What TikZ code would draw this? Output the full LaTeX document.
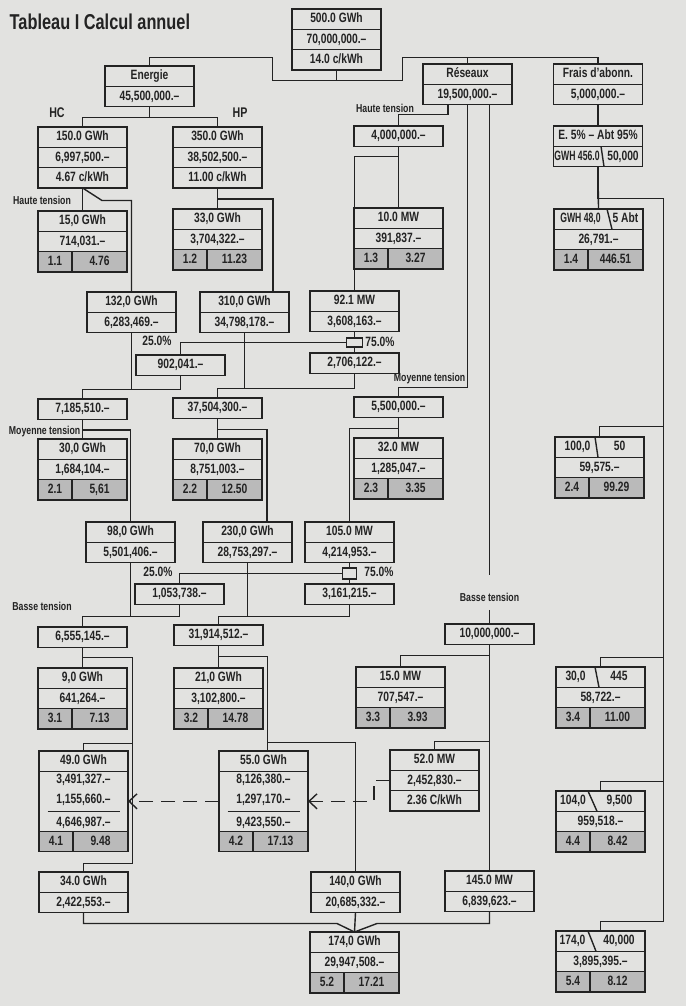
\documentclass[tikz,border=0pt]{standalone}
\usepackage{fontspec}
\setmainfont{Liberation Sans}[FakeStretch=0.76]
\newfontfamily\narrowfont{Liberation Sans}[FakeStretch=0.64]
\usetikzlibrary{positioning,arrows.meta}

\definecolor{paper}{RGB}{226,226,224}
\definecolor{ink}{RGB}{35,35,35}
\definecolor{shade}{RGB}{186,186,186}

\newcommand{\cellfont}{\fontsize{13.5}{16}\selectfont\bfseries}
\newcommand{\labfont}{\fontsize{11.5}{14}\selectfont\bfseries}
\newcommand{\hcfont}{\fontsize{14}{16}\selectfont\bfseries}
\newcommand{\titlefont}{\fontsize{21.5}{24}\selectfont\bfseries}

\tikzset{
  cell/.style={draw=ink, line width=1.4pt, minimum width=89pt, minimum height=20.3pt,
    inner sep=0pt, outer sep=0pt, text=ink, font=\cellfont, text height=9.8pt, text depth=2.6pt},
  gcell/.style={cell, fill=shade},
  bigcell/.style={draw=ink, line width=1.4pt, minimum width=89pt, minimum height=60pt,
    inner sep=0pt, outer sep=0pt, text=ink, align=center, font={\fontsize{13.5}{20}\selectfont\bfseries}},
  txt/.style={text=ink, font=\cellfont, inner sep=0pt, text height=9.8pt, text depth=2.6pt},
  lab/.style={text=ink, font=\labfont, inner sep=1pt},
  splitbox/.style={draw=ink, fill=paper, inner sep=0pt, outer sep=0pt},
  dashwire/.style={dash pattern=on 14pt off 8pt, -{Straight Barb[length=8pt,width=15pt]}},
}

% grey row of two cells under a row node: above, name, left, right
\newcommand{\greyrow}[4]{%
  \node[gcell, minimum width=34pt, below right=0pt and 0pt of #1.south west] (#2l) {#3};
  \node[gcell, minimum width=55pt, below left=0pt and 0pt of #1.south east] (#2r) {#4};}
% row split by a slanted stroke: row, top shift, bottom shift, left shift, left text, right shift, right text
\newcommand{\slashrow}[7]{%
  \draw ([xshift=#2pt]#1.north) -- ([xshift=#3pt]#1.south);
  \node[txt] (#1l) at ([xshift=#4pt]#1.center) {#5};
  \node[txt] (#1r) at ([xshift=#6pt]#1.center) {#7};}

\begin{document}
\begin{tikzpicture}[x=1pt,y=-1pt,line width=1.4pt,color=ink]
\fill[paper] (0,0) rectangle (686,1006);
\useasboundingbox (0,0) rectangle (686,1006);

\node[anchor=west, font=\titlefont, text=ink, inner sep=0pt] (title) at (9,22) {Tableau I Calcul annuel};

% totals
\node[cell, anchor=north] (tot1) at (336.5,9) {500.0 GWh};
\node[cell, below=0pt of tot1] (tot2) {70,000,000.–};
\node[cell, below=0pt of tot2] (tot3) {14.0 c/kWh};

\node[cell, anchor=north] (en1) at (149.5,66) {Energie};
\node[cell, below=0pt of en1] (en2) {45,500,000.–};
\node[cell, anchor=north] (res1) at (467.5,64) {Réseaux};
\node[cell, below=0pt of res1] (res2) {19,500,000.–};
\node[cell, anchor=north] (fr1) at (598,64) {Frais d'abonn.};
\node[cell, below=0pt of fr1] (fr2) {5,000,000.–};

% energie HC / HP
\node[cell, anchor=north] (hc1) at (82.5,127) {150.0 GWh};
\node[cell, below=0pt of hc1] (hc2) {6,997,500.–};
\node[cell, below=0pt of hc2] (hc3) {4.67 c/kWh};
\node[cell, anchor=north] (hp1) at (217.5,127) {350.0 GWh};
\node[cell, below=0pt of hp1] (hp2) {38,502,500.–};
\node[cell, below=0pt of hp2] (hp3) {11.00 c/kWh};
\node[lab, font=\hcfont] (lhc) at (57,113) {HC};
\node[lab, font=\hcfont] (lhp) at (240,113) {HP};

\node[cell, anchor=north] (htr) at (398.5,126) {4,000,000.–};
\node[cell, anchor=north] (e51) at (598,126) {E. 5\% – Abt 95\%};
\node[cell, below=0pt of e51] (e52) {};
\slashrow{e52}{3}{6}{-21}{\narrowfont\bfseries GWH 456.0}{25}{50,000}

% haute tension
\node[cell, anchor=north] (h1a) at (82.5,211) {15,0 GWh};
\node[cell, below=0pt of h1a] (h1b) {714,031.–};
\greyrow{h1b}{h1g}{1.1}{4.76}
\node[cell, anchor=north] (h2a) at (217.5,209) {33,0 GWh};
\node[cell, below=0pt of h2a] (h2b) {3,704,322.–};
\greyrow{h2b}{h2g}{1.2}{11.23}
\node[cell, anchor=north] (h3a) at (398.5,208) {10.0 MW};
\node[cell, below=0pt of h3a] (h3b) {391,837.–};
\greyrow{h3b}{h3g}{1.3}{3.27}
\node[cell, anchor=north] (g48a) at (598.5,209) {};
\slashrow{g48a}{8.5}{13.5}{-18}{\narrowfont\bfseries GWH 48,0}{27}{5 Abt}
\node[cell, below=0pt of g48a] (g48b) {26,791.–};
\greyrow{g48b}{g48g}{1.4}{446.51}

\node[cell, anchor=north] (b132a) at (131.5,292) {132,0 GWh};
\node[cell, below=0pt of b132a] (b132b) {6,283,469.–};
\node[cell, anchor=north] (b310a) at (244.5,292) {310,0 GWh};
\node[cell, below=0pt of b310a] (b310b) {34,798,178.–};
\node[cell, anchor=north] (m92a) at (354.5,291) {92.1 MW};
\node[cell, below=0pt of m92a] (m92b) {3,608,163.–};
\node[splitbox, minimum width=16pt, minimum height=9pt] (sp1) at (354.5,342.5) {};
\node[cell, anchor=north] (c902) at (180.5,355) {902,041.–};
\node[cell, anchor=north] (c2706) at (354.5,353) {2,706,122.–};
\node[txt] (p25a) at (157,342) {25.0\%};
\node[txt] (p75a) at (380,343) {75.0\%};

\node[cell, anchor=north] (c7185) at (82.5,399) {7,185,510.–};
\node[cell, anchor=north] (c37504) at (217.5,398) {37,504,300.–};
\node[cell, anchor=north] (c5500) at (398.5,397) {5,500,000.–};

% moyenne tension
\node[cell, anchor=north] (mt1a) at (82.5,439) {30,0 GWh};
\node[cell, below=0pt of mt1a] (mt1b) {1,684,104.–};
\greyrow{mt1b}{mt1g}{2.1}{5,61}
\node[cell, anchor=north] (mt2a) at (217.5,439) {70,0 GWh};
\node[cell, below=0pt of mt2a] (mt2b) {8,751,003.–};
\greyrow{mt2b}{mt2g}{2.2}{12.50}
\node[cell, anchor=north] (mt3a) at (398.5,438) {32.0 MW};
\node[cell, below=0pt of mt3a] (mt3b) {1,285,047.–};
\greyrow{mt3b}{mt3g}{2.3}{3.35}
\node[cell, anchor=north] (m4a) at (599.5,437) {};
\slashrow{m4a}{-4.5}{-1.5}{-22}{100,0}{20}{50}
\node[cell, below=0pt of m4a] (m4b) {59,575.–};
\greyrow{m4b}{m4g}{2.4}{99.29}

\node[cell, anchor=north] (b98a) at (130.5,522) {98,0 GWh};
\node[cell, below=0pt of b98a] (b98b) {5,501,406.–};
\node[cell, anchor=north] (b230a) at (247.5,522) {230,0 GWh};
\node[cell, below=0pt of b230a] (b230b) {28,753,297.–};
\node[cell, anchor=north] (b105a) at (349.5,522) {105.0 MW};
\node[cell, below=0pt of b105a] (b105b) {4,214,953.–};
\node[splitbox, minimum width=14pt, minimum height=11pt] (sp2) at (349.5,573.5) {};
\node[cell, anchor=north] (c1053) at (179.5,584) {1,053,738.–};
\node[cell, anchor=north] (c3161) at (349.5,584) {3,161,215.–};
\node[txt] (p25b) at (158,573) {25.0\%};
\node[txt] (p75b) at (379,573) {75.0\%};

\node[cell, anchor=north] (c6555) at (82.5,627) {6,555,145.–};
\node[cell, anchor=north] (c31914) at (218.5,625) {31,914,512.–};
\node[cell, anchor=north] (bt10) at (489.5,624) {10,000,000.–};

% basse tension
\node[cell, anchor=north] (bt1a) at (82.5,668) {9,0 GWh};
\node[cell, below=0pt of bt1a] (bt1b) {641,264.–};
\greyrow{bt1b}{bt1g}{3.1}{7.13}
\node[cell, anchor=north] (bt2a) at (218.5,668) {21,0 GWh};
\node[cell, below=0pt of bt2a] (bt2b) {3,102,800.–};
\greyrow{bt2b}{bt2g}{3.2}{14.78}
\node[cell, anchor=north] (bt3a) at (400.5,667) {15.0 MW};
\node[cell, below=0pt of bt3a] (bt3b) {707,547.–};
\greyrow{bt3b}{bt3g}{3.3}{3.93}
\node[cell, anchor=north] (b4a) at (600.5,667) {};
\slashrow{b4a}{-5.5}{-1.5}{-25}{30,0}{18.5}{445}
\node[cell, below=0pt of b4a] (b4b) {58,722.–};
\greyrow{b4b}{b4g}{3.4}{11.00}

\node[cell, anchor=north] (c49a) at (83.5,751) {49.0 GWh};
\node[bigcell, below=0pt of c49a] (c49b) {3,491,327.–\\1,155,660.–\\[3pt]4,646,987.–};
\greyrow{c49b}{c49g}{4.1}{9.48}
\draw (c49b.center) ++(-36,10) -- ++(72,0);
\node[cell, anchor=north] (c55a) at (263.5,751) {55.0 GWh};
\node[bigcell, below=0pt of c55a] (c55b) {8,126,380.–\\1,297,170.–\\[3pt]9,423,550.–};
\greyrow{c55b}{c55g}{4.2}{17.13}
\draw (c55b.center) ++(-36,10) -- ++(72,0);
\node[cell, anchor=north] (c52a) at (434.5,750) {52.0 MW};
\node[cell, below=0pt of c52a] (c52b) {2,452,830.–};
\node[cell, below=0pt of c52b] (c52c) {2.36 C/kWh};
\node[cell, anchor=north] (p104a) at (600.5,791) {};
\slashrow{p104a}{-12.5}{-3.5}{-27.5}{104,0}{19}{9,500}
\node[cell, below=0pt of p104a] (p104b) {959,518.–};
\greyrow{p104b}{p104g}{4.4}{8.42}

\node[cell, anchor=north] (c34a) at (83.5,872) {34.0 GWh};
\node[cell, below=0pt of c34a] (c34b) {2,422,553.–};
\node[cell, anchor=north] (c140a) at (355.5,872) {140,0 GWh};
\node[cell, below=0pt of c140a] (c140b) {20,685,332.–};
\node[cell, anchor=north] (c145a) at (489.5,871) {145.0 MW};
\node[cell, below=0pt of c145a] (c145b) {6,839,623.–};
\node[cell, anchor=north] (c174a) at (354.5,932) {174,0 GWh};
\node[cell, below=0pt of c174a] (c174b) {29,947,508.–};
\greyrow{c174b}{c174g}{5.2}{17.21}
\node[cell, anchor=north] (r174a) at (600.5,931) {};
\slashrow{r174a}{-12.5}{-4.5}{-28}{174,0}{18.5}{40,000}
\node[cell, below=0pt of r174a] (r174b) {3,895,395.–};
\greyrow{r174b}{r174g}{5.4}{8.12}

% labels
\node[lab] (lht1) at (42,200) {Haute tension};
\node[lab] (lht2) at (385,108) {Haute tension};
\node[lab, anchor=east] (lmt1) at (82,432) {Moyenne tension};
\node[lab, anchor=south east] (lmt2) at (467,386) {Moyenne tension};
\node[lab] (lbt1) at (42,606) {Basse tension};
\node[lab] (lbt2) at (489.5,597) {Basse tension};

% junctions
\coordinate (fbus1) at (663.5,198.5);
\coordinate (fbus2) at (663.5,921.5);
\coordinate (fb4) at (663.5,426.5);
\coordinate (fb3) at (663.5,657.5);
\coordinate (fb5) at (663.5,781.5);
\coordinate (lbus1) at (132.5,657.5);
\coordinate (lbus2) at (132.5,863.5);
\coordinate (lb49) at (132.5,743.5);
\coordinate (jA) at (131.5,389.5);
\coordinate (jB) at (244.5,388.5);
\coordinate (jC) at (130.5,616.5);
\coordinate (jD) at (247.5,616.5);
\coordinate (jE) at (267.5,742.5);

% top tree
\draw (tot3.south) |- (272.5,80.5) -- (272.5,57.5) -| (en1.north);
\draw (tot3.south) ++(0,10.5) -| (402.5,57.5) -| (fr1.north);
\draw (res1.north) -- ++(0,-6.5);
\draw (en2.south) -- ++(0,11) -| (hc1.north);
\draw (en2.south) ++(0,11) -| (hp1.north);

% energie branches
\draw (hc3.south) -- (102,200.5) -| (b132a.north);
\draw (hc3.south) -- (h1a.north);
\draw (hp3.south) -- (h2a.north);
\draw (hp3.south) ++(0,11) -| ([xshift=28.5pt]b310a.north);

% reseaux branches
\draw ([xshift=-19.5pt]res2.south) -- ++(0,10) -| (htr.north);
\draw (res2.south) -- ++(0,283) -| (c5500.north);
\draw[shorten >=16pt] ([xshift=22pt]res2.south) -- (lbt2.north);
\draw[shorten <=7pt] (lbt2.south) -- (bt10.north);

% frais
\draw (fr2.south) -- (e51.north);
\draw (e52.south) -- (g48a.north);
\draw (e52.south) |- (fbus1) -- (fbus2) -| (r174a.north);
\draw (m4a.north) |- (fb4);
\draw (b4a.north) |- (fb3);
\draw (p104a.north) |- (fb5);

% haute tension
\draw (htr.south) -- (h3a.north);
\draw (htr.south) ++(0,10) -| (m92a.north);
\draw (m92b.south) -- (sp1.north);
\draw (sp1.south) -- (c2706.north);
\draw (sp1.west) -| (c902.north);
\draw (b132b.south) -- (jA) -| (c7185.north);
\draw (c902.south) |- (jA);
\draw (b310b.south) -- (jB) -| (c37504.north);
\draw (c2706.south) |- (jB);

% moyenne tension
\draw (c7185.south) -- (mt1a.north);
\draw (c7185.south) ++(0,10.5) -| (b98a.north);
\draw (c37504.south) -- (mt2a.north);
\draw (c37504.south) ++(0,11) -| ([xshift=19.5pt]b230a.north);
\draw (c5500.south) -- (mt3a.north);
\draw (c5500.south) ++(0,11) -| (b105a.north);
\draw (b105b.south) -- (sp2.north);
\draw (sp2.south) -- (c3161.north);
\draw (sp2.west) -| (c1053.north);
\draw (b98b.south) -- (jC) -| (c6555.north);
\draw (c1053.south) |- (jC);
\draw (b230b.south) -- (jD) -| (c31914.north);
\draw (c3161.south) |- (jD);

% basse tension
\draw (c6555.south) -- (bt1a.north);
\draw (c6555.south |- lbus1) -- (lbus1) -- (lbus2) -| (c34a.north);
\draw (c49a.north) |- (lb49);
\draw (c31914.south) -- (bt2a.north);
\draw (c31914.south) ++(0,11) -| ([xshift=4pt]c55a.north);
\draw (jE) -| (c140a.north);
\draw (bt10.south) -- ++(0,11) -| (bt3a.north);
\draw (bt10.south) ++(0,97) -| (c52a.north);
\draw (bt10.south) -- (c145a.north);
\draw[dashwire] (c52b.west) -- ++(-16,0) |- (c55b.east);
\draw[dashwire] (c55b.west) -- (c49b.east);

% totals
\draw (c34b.south) |- (337,923.5) -- (c174a.north);
\draw (c140b.south) -- (c174a.north);
\draw (c145b.south) |- (377,923.5) -- (c174a.north);
\end{tikzpicture}
\end{document}
